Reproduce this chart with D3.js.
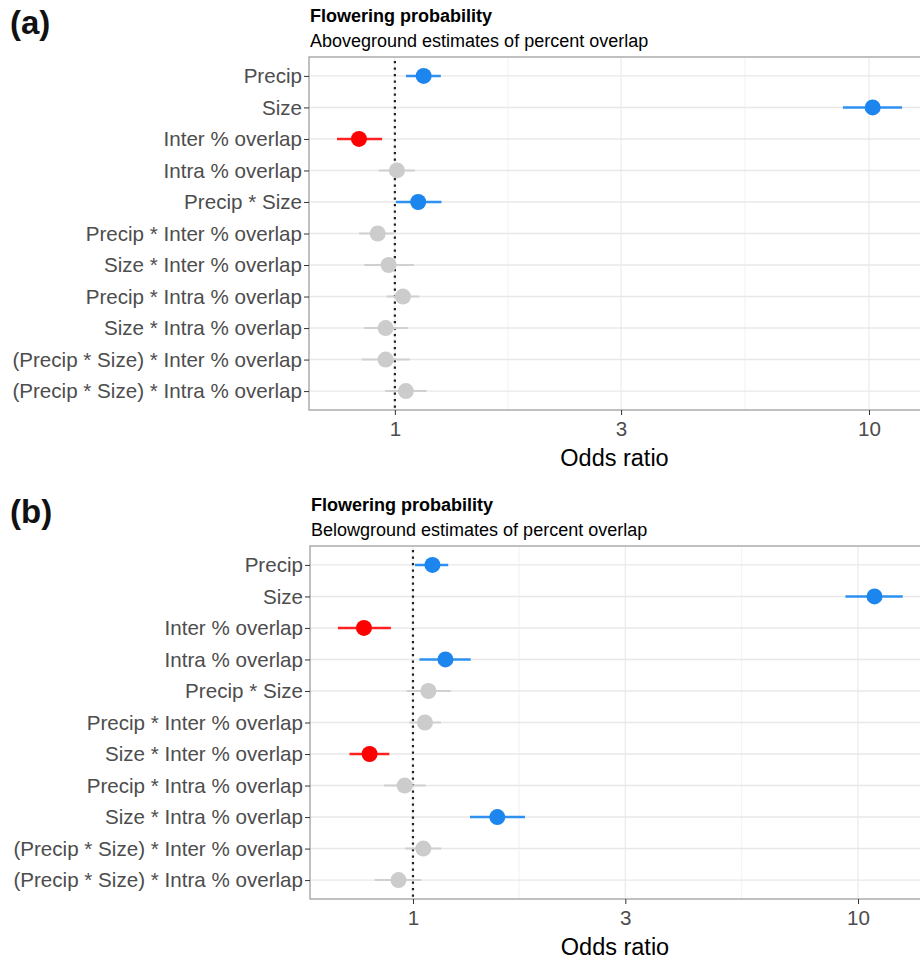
<!DOCTYPE html>
<html>
<head>
<meta charset="utf-8">
<script src="https://cdn.jsdelivr.net/npm/d3@7"></script>
<style>
  body { margin: 0; background: #fff; }
  svg text { font-family: "Liberation Sans", Arial, sans-serif; }
</style>
</head>
<body>
<div id="chart"></div>
<script>
// Data
const terms = [
  "Precip",
  "Size",
  "Inter % overlap",
  "Intra % overlap",
  "Precip * Size",
  "Precip * Inter % overlap",
  "Size * Inter % overlap",
  "Precip * Intra % overlap",
  "Size * Intra % overlap",
  "(Precip * Size) * Inter % overlap",
  "(Precip * Size) * Intra % overlap",
];

// Aboveground: odds ratio, lower and upper CI, direction
const aboveEstimate = [1.15, 10.18, 0.84, 1.01, 1.12, 0.92, 0.97, 1.04, 0.956, 0.956, 1.055];
const aboveLower = [1.055, 8.81, 0.755, 0.925, 1.005, 0.841, 0.862, 0.96, 0.862, 0.851, 0.954];
const aboveUpper = [1.25, 11.74, 0.94, 1.102, 1.254, 0.995, 1.096, 1.126, 1.065, 1.075, 1.166];
const aboveSig = ["pos", "pos", "neg", "ns", "pos", "ns", "ns", "ns", "ns", "ns", "ns"];

// Belowground
const belowEstimate = [1.106, 10.89, 0.776, 1.183, 1.083, 1.064, 0.799, 0.958, 1.547, 1.055, 0.928];
const belowLower = [1.01, 9.37, 0.678, 1.034, 0.968, 0.982, 0.72, 0.861, 1.343, 0.961, 0.82];
const belowUpper = [1.2, 12.6, 0.892, 1.348, 1.215, 1.156, 0.885, 1.068, 1.785, 1.157, 1.044];
const belowSig = ["pos", "pos", "neg", "pos", "ns", "ns", "neg", "ns", "pos", "ns", "ns"];

const xTicks = [1, 3, 10];
const xMinor = [Math.sqrt(3), Math.sqrt(30)];

// Set up dimensions
const width = 920;
const height = 960;
const labelFont = "Liberation Sans, Arial, sans-serif";

const pointColor = { pos: "#1C86EE", neg: "#FF0000", ns: "#CCCCCC" };
const lineColor = { pos: "#2E90F0", neg: "#FF2020", ns: "#D0D0D0" };

const panels = [
  {
    tag: "(a)",
    title: "Flowering probability",
    subtitle: "Aboveground estimates of percent overlap",
    estimate: aboveEstimate,
    lower: aboveLower,
    upper: aboveUpper,
    sig: aboveSig,
    domain: [0.659, 12.81],
    top: 0,
    plot: { left: 309, right: 925, top: 57, bottom: 410 },
  },
  {
    tag: "(b)",
    title: "Flowering probability",
    subtitle: "Belowground estimates of percent overlap",
    estimate: belowEstimate,
    lower: belowLower,
    upper: belowUpper,
    sig: belowSig,
    domain: [0.587, 13.78],
    top: 489,
    plot: { left: 310, right: 925, top: 546, bottom: 899 },
  },
];

const svg = d3
  .select("#chart")
  .append("svg")
  .attr("width", width)
  .attr("height", height);

panels.forEach((p) => drawPanel(p));

function drawPanel(p) {
  const g = svg.append("g");
  const rows = terms.map((t, i) => ({
    term: t,
    est: p.estimate[i],
    lo: p.lower[i],
    hi: p.upper[i],
    sig: p.sig[i],
  }));

  const plotRight = 920;
  const xScale = d3
    .scaleLog()
    .domain(p.domain)
    .range([p.plot.left, plotRight]);

  const yScale = d3
    .scalePoint()
    .domain(terms)
    .range([p.plot.top, p.plot.bottom])
    .padding(0.6);

  // Panel tag and titles
  g.append("text")
    .attr("x", 10)
    .attr("y", p.top + 34)
    .attr("font-size", 33)
    .attr("font-weight", "bold")
    .attr("fill", "#111")
    .text(p.tag);

  g.append("text")
    .attr("x", p.plot.left + 1)
    .attr("y", p.top + 22)
    .attr("font-size", 18)
    .attr("font-weight", "bold")
    .attr("fill", "#000")
    .text(p.title);

  g.append("text")
    .attr("x", p.plot.left + 1)
    .attr("y", p.top + 47)
    .attr("font-size", 18)
    .attr("fill", "#000")
    .text(p.subtitle);

  // Minor grid
  g.append("g")
    .selectAll("line")
    .data(xMinor)
    .join("line")
    .attr("x1", (d) => xScale(d))
    .attr("x2", (d) => xScale(d))
    .attr("y1", p.plot.top)
    .attr("y2", p.plot.bottom)
    .attr("stroke", "#F2F2F2")
    .attr("stroke-width", 1);

  // Major grid
  g.append("g")
    .selectAll("line")
    .data(xTicks)
    .join("line")
    .attr("x1", (d) => xScale(d))
    .attr("x2", (d) => xScale(d))
    .attr("y1", p.plot.top)
    .attr("y2", p.plot.bottom)
    .attr("stroke", "#EBEBEB")
    .attr("stroke-width", 1.2);

  g.append("g")
    .selectAll("line")
    .data(terms)
    .join("line")
    .attr("x1", p.plot.left)
    .attr("x2", plotRight)
    .attr("y1", (d) => yScale(d))
    .attr("y2", (d) => yScale(d))
    .attr("stroke", "#E8E8E8")
    .attr("stroke-width", 1.4);

  // Panel border
  g.append("rect")
    .attr("x", p.plot.left)
    .attr("y", p.plot.top)
    .attr("width", p.plot.right - p.plot.left)
    .attr("height", p.plot.bottom - p.plot.top)
    .attr("fill", "none")
    .attr("stroke", "#A6A6A6")
    .attr("stroke-width", 1.4);

  // Reference line at odds ratio 1
  g.append("line")
    .attr("x1", xScale(1))
    .attr("x2", xScale(1))
    .attr("y1", p.plot.top + 4)
    .attr("y2", p.plot.bottom)
    .attr("stroke", "#222")
    .attr("stroke-width", 2.2)
    .attr("stroke-dasharray", "2.2,4.3");

  // Confidence intervals
  g.append("g")
    .selectAll("line")
    .data(rows)
    .join("line")
    .attr("x1", (d) => xScale(d.lo))
    .attr("x2", (d) => xScale(d.hi))
    .attr("y1", (d) => yScale(d.term))
    .attr("y2", (d) => yScale(d.term))
    .attr("stroke", (d) => lineColor[d.sig])
    .attr("stroke-width", (d) => (d.sig === "ns" ? 2 : 2.5));

  // Points
  g.append("g")
    .selectAll("circle")
    .data(rows)
    .join("circle")
    .attr("cx", (d) => xScale(d.est))
    .attr("cy", (d) => yScale(d.term))
    .attr("r", 8)
    .attr("fill", (d) => pointColor[d.sig]);

  // Y axis
  const yAxisG = g
    .append("g")
    .attr("transform", `translate(${p.plot.left},0)`)
    .call(d3.axisLeft(yScale).tickSize(5).tickPadding(2));
  yAxisG.select(".domain").remove();
  yAxisG.selectAll(".tick line").attr("stroke", "#333");
  yAxisG
    .selectAll(".tick text")
    .attr("font-size", 20.6)
    .attr("font-family", labelFont)
    .attr("fill", "#4D4D4D");

  // X axis
  const xAxisG = g
    .append("g")
    .attr("transform", `translate(0,${p.plot.bottom})`)
    .call(
      d3
        .axisBottom(xScale)
        .tickValues(xTicks)
        .tickFormat(d3.format("d"))
        .tickSize(5)
        .tickPadding(6)
    );
  xAxisG.select(".domain").remove();
  xAxisG.selectAll(".tick line").attr("stroke", "#333");
  xAxisG
    .selectAll(".tick text")
    .attr("font-size", 20.6)
    .attr("font-family", labelFont)
    .attr("fill", "#4D4D4D");

  // X axis title
  g.append("text")
    .attr("x", (p.plot.left + plotRight) / 2)
    .attr("y", p.plot.bottom + 56)
    .attr("text-anchor", "middle")
    .attr("font-size", 23.5)
    .attr("fill", "#000")
    .text("Odds ratio");
}
</script>
</body>
</html>
